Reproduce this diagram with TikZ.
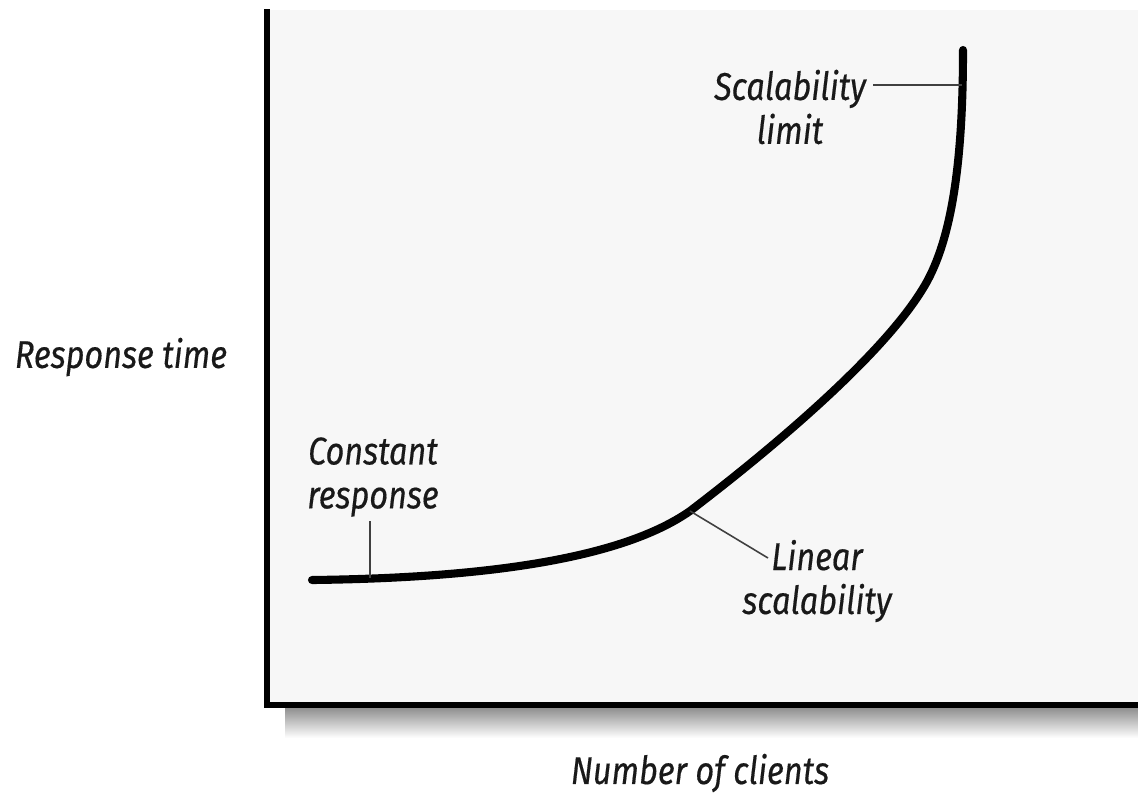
\documentclass[tikz,border=0pt]{standalone}
\usepackage{fontspec}
\setmainfont{Fira Sans}[FakeStretch=0.84,FakeBold=0.4]
\begin{document}
\begin{tikzpicture}[x=0.02cm,y=-0.02cm,
    lbl/.style={font=\itshape\fontsize{22}{25}\selectfont,align=center,text=black!90,inner sep=0pt},
    leader/.style={line width=0.9pt,black!75},
    axis/.style={line width=3.4pt,line cap=rect}]
                \useasboundingbox (0,0) rectangle (1138,806);
                \fill[black!3] (270,10) rectangle (1138,702);
                \shade[top color=black!45,bottom color=white] (285,707) rectangle (1138,738);
                \draw[axis] (267,12)--(267,705)--(1138,705);
                \coordinate (start) at (312,580);
                \coordinate (linpt) at (690,511);
                \coordinate (bend) at (922,290);
                \coordinate (top) at (963,50);
                \draw[line width=4.6pt,line cap=round] (start)
                    .. controls (480,578) and (620,560) .. (linpt)
                    .. controls (770,450) and (880,358) .. (bend)
                    .. controls (950,246) and (963,170) .. (top);
                \coordinate (constpt) at (370,578);
                \coordinate (limpt) at (962,85);
                \node[lbl] (resp) at (121,357) {Response time};
                \node[lbl] (clients) at (700,773) {Number of clients};
                \node[lbl] (const) at (373,477) {Constant\\response};
                \node[lbl] (linear) at (817,581) {Linear\\scalability};
                \node[lbl] (limit) at (790,107) {Scalability\\limit};
                \draw[leader] (370,521)--(constpt);
                \draw[leader] (linpt)--(768,558);
                \draw[leader] (873,85)--(limpt);
\end{tikzpicture}
\end{document}
